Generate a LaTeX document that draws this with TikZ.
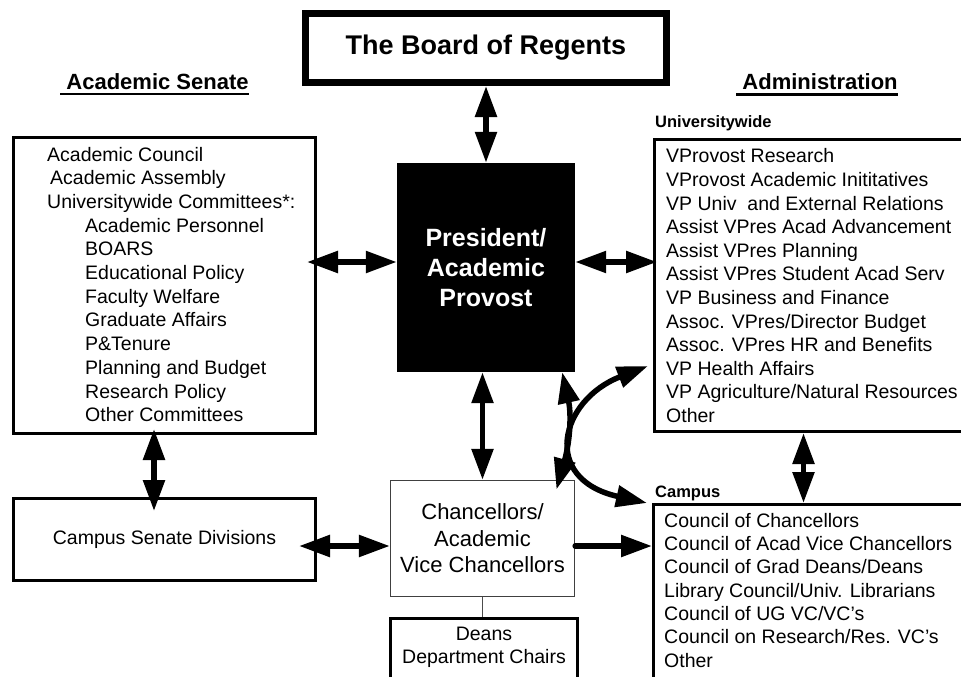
\documentclass[tikz,border=0pt]{standalone}
\usepackage{fontspec}
\setmainfont{Liberation Sans}
\usetikzlibrary{arrows.meta,positioning}
\newcommand\headrule[1]{\setbox0\hbox{#1}\rlap{\rule[-6pt]{\wd0}{2.2pt}}\box0}

\tikzset{
  box/.style={draw, line width=3pt, inner sep=0pt},
  listtext/.style={font=\fontsize{19.5}{23.7}\selectfont, align=left, inner sep=0pt},
  head/.style={font=\fontsize{22}{26}\selectfont\bfseries, inner sep=0pt},
  sub/.style={font=\fontsize{16.5}{20}\selectfont\bfseries, inner sep=0pt},
  dbl/.style={line width=5.5pt, {Triangle[length=31pt,width=21pt]}-{Triangle[length=31pt,width=21pt]}},
  sgl/.style={line width=5.5pt, line cap=round, -{Triangle[length=31pt,width=21pt]}},
}

\begin{document}
\begin{tikzpicture}[x=1pt,y=-1pt]
\useasboundingbox (0,0) rectangle (961,677);
\clip (0,0) rectangle (961,677);

% top
\node[box, line width=7pt, minimum width=361pt, minimum height=69pt,
  font=\fontsize{27}{32}\selectfont\bfseries] (board) at (486,48) {The Board of Regents};
\node[head, anchor=base] at (154.5,89) {\headrule{\ Academic Senate}};
\node[head, anchor=base] at (817,89.5) {\headrule{\ Administration}};

% senate side
\node[box, minimum width=302pt, minimum height=296pt, anchor=north west] (senate) at (12,136) {};
\node[listtext, below right=10.7pt and 35pt of senate.north west] (senlist)
  {Academic Council\\
   \hspace*{3pt}Academic Assembly\\
   Universitywide Committees*:\\
   \hspace*{38pt}Academic Personnel\\
   \hspace*{38pt}BOARS\\
   \hspace*{38pt}Educational Policy\\
   \hspace*{38pt}Faculty Welfare\\
   \hspace*{38pt}Graduate Affairs\\
   \hspace*{38pt}P\&Tenure\\
   \hspace*{38pt}Planning and Budget\\
   \hspace*{38pt}Research Policy\\
   \hspace*{38pt}Other Committees};
\node[box, minimum width=302pt, minimum height=82pt, anchor=north west,
  font=\fontsize{19.5}{23}\selectfont] (div) at (12,497) {Campus Senate Divisions};

% center
\node[fill=black, text=white, minimum width=178pt, minimum height=209pt, inner sep=0pt,
  align=center, font=\fontsize{25}{30}\selectfont\bfseries] (pres) at (486,267.5)
  {President/\\Academic\\Provost};
\node[draw=black!75, line width=1.3pt, minimum width=184pt, minimum height=116pt,
  align=center, font=\fontsize{22}{26.5}\selectfont] (chanc) at (482.5,538.5)
  {Chancellors/\\Academic\\Vice Chancellors};
\node[box, minimum width=187pt, minimum height=90pt, anchor=north west] (deans) at (389,617) {};
\node[listtext, font=\fontsize{19.5}{23}\selectfont, align=center,
  below=10pt of deans.north] (deanlist) {Deans\\Department Chairs};

% administration side
\node[sub, anchor=base west] at (655,127) {Universitywide};
\node[box, minimum width=340pt, minimum height=292pt, anchor=north west] (univ) at (653,138) {};
\node[listtext, font=\fontsize{19.5}{23.6}\selectfont,
  below right=10.5pt and 13pt of univ.north west] (univlist)
  {VProvost Research\\
   VProvost Academic Inititatives\\
   VP Univ\ \ and External Relations\\
   Assist VPres Acad Advancement\\
   Assist VPres Planning\\
   Assist VPres Student Acad Serv\\
   VP Business and Finance\\
   Assoc. VPres/Director Budget\\
   Assoc. VPres HR and Benefits\\
   VP Health Affairs\\
   VP Agriculture/Natural Resources\\
   Other};
\node[sub, anchor=base west] at (655,497) {Campus};
\node[box, minimum width=340pt, minimum height=220pt, anchor=north west] (campus) at (652,503) {};
\node[listtext, font=\fontsize{19.5}{23.3}\selectfont,
  below right=10pt and 12pt of campus.north west] (camplist)
  {Council of Chancellors\\
   Council of Acad Vice Chancellors\\
   Council of Grad Deans/Deans\\
   Library Council/Univ. Librarians\\
   Council of UG VC/VC's\\
   Council on Research/Res. VC's\\
   Other};

% links
\draw[dbl] (board.south) -- (pres.north);
\draw[dbl, shorten >=-10pt] ([yshift=5.5pt]pres.west) -- ([yshift=5.5pt]pres.west -| senate.east);
\draw[dbl, shorten >=-4pt] ([yshift=5.5pt]pres.east) -- ([yshift=5.5pt]pres.east -| univ.west);
\draw[dbl] (pres.south -| chanc.north) -- (chanc.north);
\draw[dbl, shorten >=-10pt] ([xshift=-13pt]pres.south east) to[bend left=14] ([xshift=-16pt]chanc.north east);
\draw[dbl] ([xshift=-5pt,yshift=-80.5pt]univ.west) .. controls +(-88,34) and +(-107,-24) .. ([xshift=-5pt]campus.north west);
\draw[dbl, shorten <=-6pt, shorten >=-14pt] ([xshift=-10.5pt]senate.south) -- ([xshift=-10.5pt]senate.south |- div.north);
\draw[dbl, shorten <=-18pt] ([yshift=-7.5pt]chanc.west -| div.east) -- ([yshift=-7.5pt]chanc.west);
\draw[sgl] ([yshift=-7.5pt]chanc.east) -- ([yshift=-7.5pt]chanc.east -| campus.west);
\draw[dbl] ([xshift=-21pt]univ.south) -- ([xshift=-21pt]univ.south |- campus.north);
\draw[black!70, line width=1.3pt] (chanc.south) -- (chanc.south |- deans.north);
\end{tikzpicture}
\end{document}
